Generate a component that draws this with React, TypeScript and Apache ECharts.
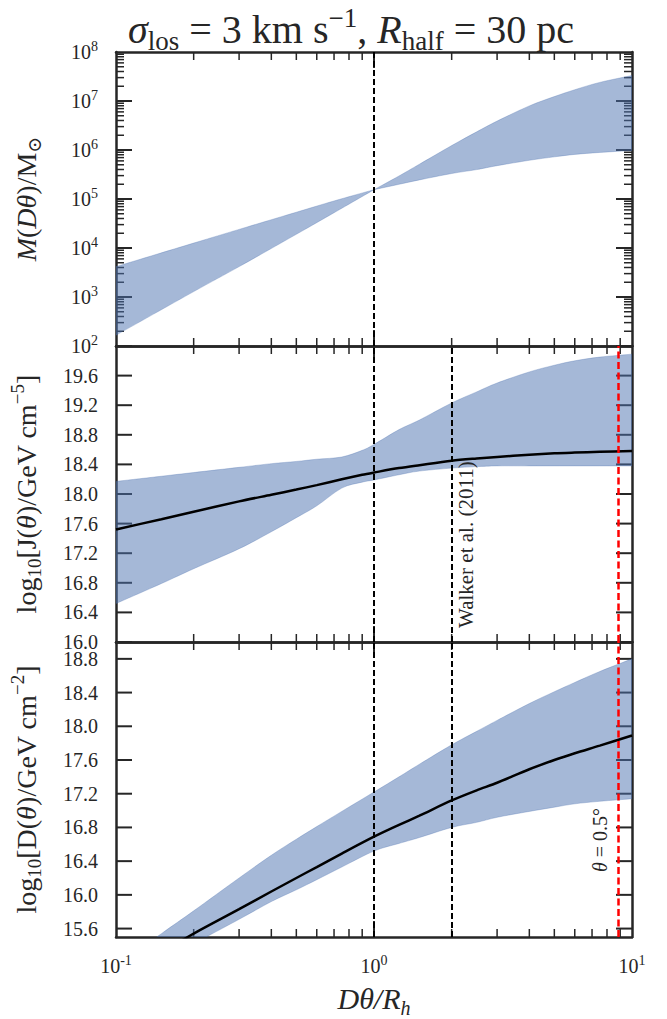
import React, { useEffect, useRef } from 'react';
import * as echarts from 'echarts';

const FONT = "'Liberation Serif', 'DejaVu Serif', serif";
const AX = '#262626';
const BAND_FILL = 'rgba(76,114,176,0.5)';
const BAND_EDGE = 'rgba(76,114,176,0.3)';

// ---- Top panel: M(Dθ) band, stored as log10(M / Msun)
const M_X = [0.1, 0.2, 0.3, 0.5, 0.7, 1.0, 1.25, 1.5, 2, 2.5, 3, 4, 5, 6, 7.5, 10];
const M_LO_LOG = [2.22, 3.11, 3.62, 4.28, 4.72, 5.19, 5.30, 5.39, 5.52, 5.60, 5.68, 5.79, 5.86, 5.91, 5.95, 5.99];
const M_HI_LOG = [3.62, 4.10, 4.38, 4.73, 4.96, 5.19, 5.47, 5.71, 6.09, 6.37, 6.59, 6.90, 7.09, 7.23, 7.38, 7.52];

// ---- Middle panel: log10 J(θ)
const J_X = [0.1, 0.15, 0.2, 0.3, 0.4, 0.5, 0.6, 0.75, 0.9, 1.0, 1.25, 1.5, 2, 2.5, 3, 4, 5, 6, 7.5, 10];
const J_MED = [17.52, 17.66, 17.76, 17.90, 17.99, 18.06, 18.12, 18.20, 18.26, 18.29, 18.35, 18.39, 18.45, 18.48, 18.50, 18.53, 18.55, 18.56, 18.57, 18.58];
const J_HI = [18.17, 18.24, 18.29, 18.36, 18.41, 18.44, 18.47, 18.50, 18.59, 18.67, 18.87, 19.00, 19.23, 19.38, 19.50, 19.65, 19.74, 19.80, 19.85, 19.89];
const J_LO = [16.52, 16.79, 16.99, 17.26, 17.49, 17.68, 17.84, 18.08, 18.16, 18.19, 18.26, 18.31, 18.35, 18.37, 18.38, 18.38, 18.38, 18.38, 18.38, 18.38];

// ---- Bottom panel: log10 D(θ)
const D_X = [0.1, 0.15, 0.2, 0.3, 0.4, 0.5, 0.6, 0.75, 1.0, 1.25, 1.5, 2, 2.5, 3, 4, 5, 6, 7.5, 10];
const D_MED = [15.03, 15.32, 15.54, 15.83, 16.04, 16.20, 16.33, 16.49, 16.69, 16.83, 16.94, 17.12, 17.24, 17.33, 17.49, 17.60, 17.68, 17.77, 17.89];
const D_HI = [15.15, 15.54, 15.81, 16.20, 16.47, 16.66, 16.81, 16.99, 17.22, 17.40, 17.55, 17.78, 17.94, 18.07, 18.27, 18.41, 18.52, 18.65, 18.80];
const D_LO = [14.92, 15.21, 15.42, 15.71, 15.92, 16.06, 16.18, 16.33, 16.52, 16.61, 16.68, 16.80, 16.86, 16.92, 16.99, 17.04, 17.08, 17.11, 17.14];

// ---- Axis ranges and ticks
const X_RANGE = [0.1, 10];
const M_RANGE = [1e2, 1e8];
const J_RANGE = [16, 20];
const D_RANGE = [15.5, 19];
const X_MAJOR = [1];
const X_MINOR = [0.2, 0.3, 0.4, 0.5, 0.6, 0.7, 0.8, 0.9, 2, 3, 4, 5, 6, 7, 8, 9];
const M_MAJOR = [1e2, 1e3, 1e4, 1e5, 1e6, 1e7, 1e8];
const M_MINOR_MANTISSA = [2, 3, 4, 5, 6, 7, 8, 9];
const J_TICKS = [16.0, 16.4, 16.8, 17.2, 17.6, 18.0, 18.4, 18.8, 19.2, 19.6];
const D_TICKS = [15.6, 16.0, 16.4, 16.8, 17.2, 17.6, 18.0, 18.4, 18.8];

// ---- Reference lines
const X_RHALF = 1;
const X_WALKER = 2;
const X_THETA = 8.85;

const GRIDS = [
  { left: 116, top: 52, width: 516, height: 294 },
  { left: 116, top: 346, width: 516, height: 296 },
  { left: 116, top: 642, width: 516, height: 295 },
];

const M_MINOR: number[] = [];
for (let i = 0; i < M_MAJOR.length - 1; i++) {
  for (const k of M_MINOR_MANTISSA) M_MINOR.push(M_MAJOR[i] * k);
}

const labelRich = {
  sup: { fontSize: 14, fontFamily: FONT, color: AX, verticalAlign: 'top', lineHeight: 14 },
};

const NAME_FS = 28;
const nameRich = {
  i: { fontStyle: 'italic', fontFamily: FONT, fontSize: NAME_FS, color: AX, lineHeight: 36 },
  xi: { fontStyle: 'italic', fontFamily: FONT, fontSize: 30, color: AX, lineHeight: 38 },
  sub: { fontFamily: FONT, fontSize: 19, color: AX, verticalAlign: 'bottom', lineHeight: 19 },
  isub: { fontFamily: FONT, fontStyle: 'italic', fontSize: 20, color: AX, verticalAlign: 'bottom', lineHeight: 20 },
  sup: { fontFamily: FONT, fontSize: 19, color: AX, verticalAlign: 'top', lineHeight: 19 },
};

const pow10Label = (v: number) => '10{sup|' + Math.round(Math.log10(v)) + '}';

function xAxisFor(g: number, pos: 'bottom' | 'top') {
  const main = g === 2 && pos === 'bottom';
  return {
    type: 'log',
    logBase: 10,
    min: X_RANGE[0],
    max: X_RANGE[1],
    gridIndex: g,
    position: pos,
    axisLine: { show: true, onZero: false, lineStyle: { color: AX, width: 2.5 } },
    axisTick: { show: false },
    minorTick: { show: false },
    splitLine: { show: false },
    axisLabel: main
      ? { show: true, fontFamily: FONT, fontSize: 20, color: AX, lineHeight: 26, margin: 16, rich: labelRich, formatter: pow10Label }
      : { show: false },
    name: main ? '{xi|Dθ/R}{isub|h}' : '',
    nameLocation: 'middle',
    nameGap: 40,
    nameTextStyle: { fontFamily: FONT, fontSize: 30, color: AX, lineHeight: 38, rich: nameRich },
  };
}

function yAxisFor(g: number, pos: 'left' | 'right') {
  const left = pos === 'left';
  const common: any = {
    gridIndex: g,
    position: pos,
    axisLine: { show: true, onZero: false, lineStyle: { color: AX, width: 2.5 } },
    axisTick: { show: false },
    minorTick: { show: false },
    splitLine: { show: false },
    nameLocation: 'middle',
    nameRotate: 90,
    nameGap: 72,
    nameTextStyle: { fontFamily: FONT, fontSize: NAME_FS, color: AX, lineHeight: 36, rich: nameRich },
  };
  const lab = { show: left, fontFamily: FONT, fontSize: 20, color: AX, margin: 18 };
  if (g === 0) {
    return {
      ...common,
      type: 'log',
      logBase: 10,
      min: M_RANGE[0],
      max: M_RANGE[1],
      axisLabel: { ...lab, lineHeight: 26, rich: labelRich, formatter: pow10Label },
      name: left ? '{i|M}({i|Dθ})/M{sub|⊙}' : '',
    };
  }
  const ticks = g === 1 ? J_TICKS : D_TICKS;
  const range = g === 1 ? J_RANGE : D_RANGE;
  return {
    ...common,
    type: 'value',
    min: range[0],
    max: range[1],
    axisLabel: { ...lab, lineHeight: 20, customValues: ticks, formatter: (v: number) => v.toFixed(1) },
    name: left
      ? g === 1
        ? 'log{sub|10}[J({i|θ})/GeV cm{sup|−5}]'
        : 'log{sub|10}[D({i|θ})/GeV cm{sup|−2}]'
      : '',
  };
}

// Catmull-Rom smoothing of a pixel polyline (assumes the pen is at pts[0])
function smoothSeg(pts: number[][]): string {
  let d = '';
  for (let i = 0; i < pts.length - 1; i++) {
    const p0 = pts[i - 1] || pts[i];
    const p1 = pts[i];
    const p2 = pts[i + 1];
    const p3 = pts[i + 2] || pts[i + 1];
    const c1x = p1[0] + (p2[0] - p0[0]) / 6;
    const c1y = p1[1] + (p2[1] - p0[1]) / 6;
    const c2x = p2[0] - (p3[0] - p1[0]) / 6;
    const c2y = p2[1] - (p3[1] - p1[1]) / 6;
    d += ` C ${c1x} ${c1y} ${c2x} ${c2y} ${p2[0]} ${p2[1]}`;
  }
  return d;
}

function smoothEdge(pts: number[][], breakIdx: number | null): string {
  if (breakIdx == null || breakIdx <= 0 || breakIdx >= pts.length - 1) return smoothSeg(pts);
  return smoothSeg(pts.slice(0, breakIdx + 1)) + smoothSeg(pts.slice(breakIdx));
}

// The band of each panel, drawn together with the panel's inward ticks (ticks first, so the band tints them)
function bandRenderer(
  xs: number[], lo: number[], hi: number[], breakX: number | null,
  yRange: number[], yMajor: number[], yMinor: number[],
) {
  const bi = breakX == null ? null : xs.indexOf(breakX);
  return (params: any, api: any) => {
    if (params.dataIndex !== 0) return null;
    const children: any[] = [];
    const addRect = (x: number, y: number, w: number, h: number) =>
      children.push({ type: 'rect', shape: { x, y, width: w, height: h }, style: { fill: AX } });
    const xt = (vals: number[], len: number, w: number) => {
      for (const v of vals) {
        const b = api.coord([v, yRange[0]]);
        const t = api.coord([v, yRange[1]]);
        addRect(b[0] - w / 2, b[1] - len, w, len);
        addRect(t[0] - w / 2, t[1], w, len);
      }
    };
    const yt = (vals: number[], len: number, w: number) => {
      for (const v of vals) {
        const l = api.coord([X_RANGE[0], v]);
        const r = api.coord([X_RANGE[1], v]);
        addRect(l[0], l[1] - w / 2, len, w);
        addRect(r[0] - len, r[1] - w / 2, len, w);
      }
    };
    xt(X_MAJOR, 16, 2);
    xt(X_MINOR, 8, 1.5);
    yt(yMajor, 16, 2);
    yt(yMinor, 8, 1.5);

    const up = xs.map((x, i) => api.coord([x, hi[i]]));
    const dn = xs.map((x, i) => api.coord([x, lo[i]])).reverse();
    const biRev = bi == null ? null : xs.length - 1 - bi;
    let d = `M ${up[0][0]} ${up[0][1]}` + smoothEdge(up, bi);
    d += ` L ${dn[0][0]} ${dn[0][1]}` + smoothEdge(dn, biRev) + ' Z';
    children.push({
      type: 'path',
      shape: { pathData: d },
      style: { fill: BAND_FILL, stroke: BAND_EDGE, lineWidth: 1 },
    });
    return { type: 'group', children };
  };
}

// rotated annotation placed next to a vertical reference line, via the axis scales
function noteSeries(g: number, xVal: number, yBase: number, dx: number, dy: number, text: string, rich: any, fontSize: number) {
  return {
    type: 'custom',
    xAxisIndex: 2 * g,
    yAxisIndex: 2 * g,
    clip: false,
    z: 6,
    renderItem: (params: any, api: any) => {
      const p = api.coord([xVal, yBase]);
      return {
        type: 'text',
        x: p[0] + dx,
        y: p[1] + dy,
        rotation: Math.PI / 2,
        style: {
          text,
          rich,
          align: 'left',
          verticalAlign: 'middle',
          fontFamily: FONT,
          fontSize,
          fill: AX,
        },
      };
    },
    encode: { x: 0, y: 1 },
    data: [[xVal, yBase]],
  };
}

const dashBlack = { color: '#000', width: 2, type: [6, 3] };
const dashRed = { color: '#ff0000', width: 2.5, type: [7, 3.5] };

function markLines(withWalker: boolean) {
  const data: any[] = [{ xAxis: X_RHALF }];
  if (withWalker) {
    data.push({ xAxis: X_WALKER });
    data.push({ xAxis: X_THETA, lineStyle: dashRed });
  }
  return {
    silent: true,
    symbol: ['none', 'none'],
    label: { show: false },
    animation: false,
    lineStyle: dashBlack,
    data,
  };
}

const mLo = M_LO_LOG.map((v) => Math.pow(10, v));
const mHi = M_HI_LOG.map((v) => Math.pow(10, v));

const titleText = {
  type: 'text',
  x: 351,
  y: 29,
  style: {
    text: '{i|σ}{sub|los}{n| = 3 km s}{sup|−1}{n|, }{i|R}{sub|half}{n| = 30 pc}',
    align: 'center',
    verticalAlign: 'middle',
    fontFamily: FONT,
    fontSize: 40,
    fill: AX,
    rich: {
      n: { fontFamily: FONT, fontSize: 40, fill: AX, lineHeight: 50 },
      i: { fontFamily: FONT, fontStyle: 'italic', fontSize: 40, fill: AX, lineHeight: 50 },
      sub: { fontFamily: FONT, fontSize: 27, fill: AX, verticalAlign: 'bottom', lineHeight: 27 },
      sup: { fontFamily: FONT, fontSize: 27, fill: AX, verticalAlign: 'top', lineHeight: 27 },
    },
  },
};

const thetaRich = {
  i: { fontFamily: FONT, fontStyle: 'italic', fontSize: 20, fill: AX },
  n: { fontFamily: FONT, fontSize: 20, fill: AX },
};

export default function App() {
  const ref = useRef<HTMLDivElement>(null);
  useEffect(() => {
    if (!ref.current) return;
    const chart = echarts.init(ref.current, null, { renderer: 'svg' });
    const option: any = {
      animation: false,
      backgroundColor: '#ffffff',
      grid: GRIDS,
      xAxis: [0, 1, 2].flatMap((g) => [xAxisFor(g, 'bottom'), xAxisFor(g, 'top')]),
      yAxis: [0, 1, 2].flatMap((g) => [yAxisFor(g, 'left'), yAxisFor(g, 'right')]),
      graphic: [titleText],
      series: [
        {
          type: 'custom',
          name: 'M band',
          xAxisIndex: 0,
          yAxisIndex: 0,
          clip: true,
          renderItem: bandRenderer(M_X, mLo, mHi, X_RHALF, M_RANGE, M_MAJOR, M_MINOR),
          encode: { x: 0, y: [1, 2] },
          data: M_X.map((x, i) => [x, mLo[i], mHi[i]]),
          markLine: markLines(false),
        },
        {
          type: 'custom',
          name: 'J band',
          xAxisIndex: 2,
          yAxisIndex: 2,
          clip: true,
          renderItem: bandRenderer(J_X, J_LO, J_HI, null, J_RANGE, J_TICKS, []),
          encode: { x: 0, y: [1, 2] },
          data: J_X.map((x, i) => [x, J_LO[i], J_HI[i]]),
          markLine: markLines(true),
        },
        {
          type: 'line',
          name: 'J median',
          xAxisIndex: 2,
          yAxisIndex: 2,
          symbol: 'none',
          smooth: 0.3,
          clip: true,
          lineStyle: { color: '#000', width: 2.5 },
          data: J_X.map((x, i) => [x, J_MED[i]]),
        },
        {
          type: 'custom',
          name: 'D band',
          xAxisIndex: 4,
          yAxisIndex: 4,
          clip: true,
          renderItem: bandRenderer(D_X, D_LO, D_HI, null, D_RANGE, D_TICKS, []),
          encode: { x: 0, y: [1, 2] },
          data: D_X.map((x, i) => [x, D_LO[i], D_HI[i]]),
          markLine: markLines(true),
        },
        {
          type: 'line',
          name: 'D median',
          xAxisIndex: 4,
          yAxisIndex: 4,
          symbol: 'none',
          smooth: 0.3,
          clip: true,
          lineStyle: { color: '#000', width: 2.5 },
          data: D_X.map((x, i) => [x, D_MED[i]]),
        },
        noteSeries(1, X_WALKER, J_RANGE[0], 14, -14, 'Walker et al. (2011)', undefined, 21),
        noteSeries(2, X_THETA, D_RANGE[0], -18, -65, '{i|θ}{n| = 0.5°}', thetaRich, 20),
      ],
    };
    chart.setOption(option);
    return () => chart.dispose();
  }, []);
  return <div ref={ref} style={{ position: 'absolute', left: 0, top: 0, width: 667, height: 1019 }} />;
}
